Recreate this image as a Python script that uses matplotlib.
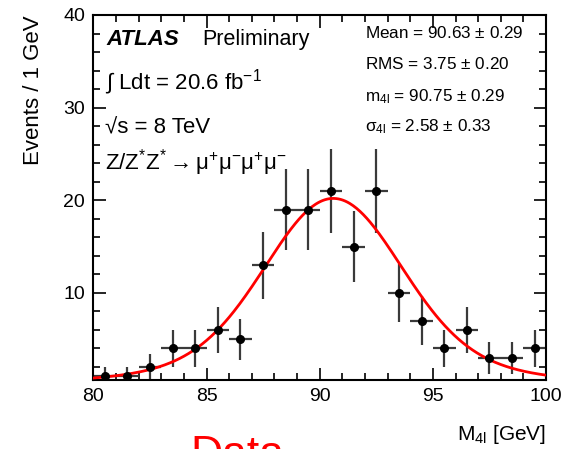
#!/usr/bin/env python3

import numpy as np
import matplotlib
matplotlib.use("Agg")
import matplotlib.pyplot as plt
from matplotlib.ticker import MultipleLocator

# bin centres (1 GeV bins) and event counts
mass_bins = [80.5, 81.5, 82.5, 83.5, 84.5, 85.5, 86.5, 87.5, 88.5, 89.5,
             90.5, 91.5, 92.5, 93.5, 94.5, 95.5, 96.5, 97.5, 98.5, 99.5]
events = [1, 1, 2, 4, 4, 6, 5, 13, 19, 19,
          21, 15, 21, 10, 7, 4, 6, 3, 3, 4]

# fit (Breit-Wigner x Gauss) parameters
fit_mass = 90.6
fit_sigma = 2.58
z_width = 2.4952
fit_peak = 20.2

stats_lines = [
    r"Mean = 90.63 $\pm$ 0.29",
    r"RMS = 3.75 $\pm$ 0.20",
    r"m$_{4l}$ = 90.75 $\pm$ 0.29",
    r"$\sigma_{4l}$ = 2.58 $\pm$ 0.33",
]

plt.rcParams["font.family"] = ["Liberation Sans", "DejaVu Sans"]
plt.rcParams["mathtext.fontset"] = "custom"
plt.rcParams["mathtext.rm"] = "Liberation Sans"
plt.rcParams["mathtext.it"] = "Liberation Sans"
plt.rcParams["mathtext.bf"] = "Liberation Sans:bold"


def voigt(x, m, sigma, width):
    # numeric convolution of a Breit-Wigner with a Gaussian
    t = np.linspace(-25, 25, 2001)
    gauss = np.exp(-0.5 * (t / sigma) ** 2)
    g = width / 2.0
    out = []
    for xi in x:
        bw = g / ((xi - m - t) ** 2 + g ** 2)
        out.append(np.sum(gauss * bw))
    return np.array(out)


fig = plt.figure(figsize=(5.64, 4.49), dpi=100)
ax = fig.add_axes([0.1655, 0.1537, 0.8027, 0.8129])

x = np.array(mass_bins)
y = np.array(events)
ax.errorbar(x, y, yerr=np.sqrt(y), xerr=0.5, fmt="none",
            ecolor="#3a3a3a", elinewidth=1.6, capsize=0, zorder=2)
ax.plot(x, y, "o", color="black", markersize=5.5, zorder=4)

xs = np.linspace(80, 100, 400)
curve = voigt(xs, fit_mass, fit_sigma, z_width)
curve = curve / curve.max() * fit_peak
ax.plot(xs, curve, color="#ff0000", lw=2.0, zorder=3)

ax.set_xlim(80, 100)
ax.set_ylim(0.6, 40)
ax.xaxis.set_major_locator(MultipleLocator(5))
ax.xaxis.set_minor_locator(MultipleLocator(1))
ax.yaxis.set_major_locator(MultipleLocator(10))
ax.yaxis.set_minor_locator(MultipleLocator(2))
ax.tick_params(which="both", direction="in", top=True, right=True,
               labelsize=14, width=1.2, pad=6)
ax.tick_params(which="major", length=9)
ax.tick_params(which="minor", length=5)
for s in ax.spines.values():
    s.set_linewidth(1.5)

ax.set_ylabel("Events / 1 GeV", fontsize=16, loc="top", labelpad=14)
ax.set_xlabel(r"M$_{4l}$ [GeV]", fontsize=15, loc="right", labelpad=13)

ax.text(0.030, 0.932, "ATLAS", transform=ax.transAxes, fontsize=16,
        fontweight="bold", fontstyle="italic", va="center")
ax.text(0.240, 0.932, "Preliminary", transform=ax.transAxes, fontsize=15.5,
        va="center")
ax.text(0.026, 0.816, r"$\int$ Ldt = 20.6 fb$^{-1}$", transform=ax.transAxes,
        fontsize=16, va="center")
ax.text(0.026, 0.690, "√s = 8 TeV", transform=ax.transAxes,
        fontsize=16, va="center")
ax.text(0.026, 0.597,
        r"Z/Z$^{*}$Z$^{*}{\rightarrow}$μ$^{+}$μ$^{-}$μ$^{+}$μ$^{-}$",
        transform=ax.transAxes, fontsize=16, va="center")

for yy, line in zip([0.951, 0.866, 0.775, 0.693], stats_lines):
    ax.text(0.600, yy, line, transform=ax.transAxes, fontsize=12.3,
            va="center")

fig.text(0.337, 1 - 435 / 449, "Data", color="#ff0000", fontsize=32,
         va="top", ha="left")

fig.savefig("out.png", dpi=100)
